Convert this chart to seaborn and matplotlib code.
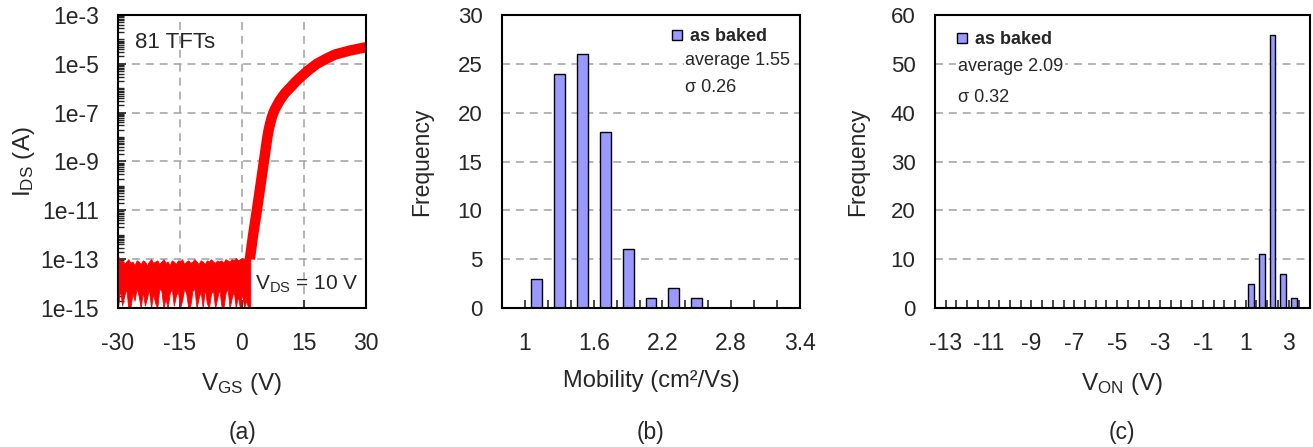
import matplotlib
matplotlib.use("Agg")
import matplotlib.pyplot as plt
import seaborn as sns
from matplotlib.patches import Patch
from matplotlib.ticker import FixedLocator, LogLocator, NullFormatter, MultipleLocator

# ---------------- data ----------------
# (a) transfer curves: on-state (centre of the band) and off-state noise envelope
vgs_on = [1.9, 2.7, 3.6, 4.45, 5.3, 5.8, 6.1, 6.4, 6.8, 7.2, 7.6, 8.0, 8.6, 9.2, 10.4, 11.8,
          13.0, 14.0, 16.0, 18.1, 20.5, 22.5, 26.0, 30.0]
log_ids_on = [-13.0, -12.0, -11.0, -10.0, -9.0, -8.4, -8.05, -7.75, -7.45, -7.2, -7.0, -6.85,
              -6.66, -6.48, -6.2, -5.95, -5.73, -5.57, -5.27, -5.0, -4.78, -4.62, -4.46, -4.32]

vgs_off = [-30.0, -29.5, -29.0, -28.5, -28.0, -27.5, -27.0, -26.5, -26.0, -25.5,
           -25.0, -24.5, -24.0, -23.5, -23.0, -22.5, -22.0, -21.5, -21.0, -20.5,
           -20.0, -19.5, -19.0, -18.5, -18.0, -17.5, -17.0, -16.5, -16.0, -15.5,
           -15.0, -14.5, -14.0, -13.5, -13.0, -12.5, -12.0, -11.5, -11.0, -10.5,
           -10.0, -9.5, -9.0, -8.5, -8.0, -7.5, -7.0, -6.5, -6.0, -5.5,
           -5.0, -4.5, -4.0, -3.5, -3.0, -2.5, -2.0, -1.5, -1.0, -0.5,
           0.0, 0.5, 1.0, 1.5, 2.0]
log_off_top = [-12.85, -13.1, -13.05, -13.2, -13.1, -13.0, -13.15, -13.1, -13.25, -13.05,
               -13.1, -13.2, -13.05, -13.1, -13.25, -13.1, -13.0, -13.15, -13.1, -13.05,
               -13.2, -13.1, -13.0, -13.15, -13.1, -13.25, -13.05, -13.1, -13.2, -13.05,
               -13.1, -13.0, -13.2, -13.1, -13.05, -13.15, -13.1, -13.0, -13.1, -13.2,
               -13.05, -13.1, -13.2, -13.05, -13.1, -13.0, -13.1, -13.15, -13.05, -13.1,
               -13.05, -13.15, -13.0, -13.05, -13.1, -13.0, -13.05, -12.95, -13.05, -13.0,
               -12.95, -13.0, -12.92, -12.95, -12.95]
log_off_bottom = [-15.0, -14.2, -14.9, -14.5, -14.2, -15.0, -15.0, -14.4, -14.7, -14.2,
                  -14.5, -15.0, -14.3, -14.9, -14.6, -14.2, -15.0, -14.4, -14.8, -15.0,
                  -14.2, -14.3, -15.0, -14.6, -15.0, -14.4, -14.2, -14.9, -14.5, -14.3,
                  -15.0, -14.7, -14.2, -14.4, -15.0, -14.9, -14.3, -14.2, -15.0, -14.6,
                  -14.3, -15.0, -14.2, -14.8, -15.0, -14.4, -14.3, -15.0, -14.6, -14.2,
                  -14.9, -15.0, -14.4, -14.2, -15.0, -14.6, -14.3, -15.0, -14.5, -15.0,
                  -14.4, -15.0, -14.7, -15.0, -15.0]

a_xticks = [-30, -15, 0, 15, 30]
a_ytick_exp = [-3, -5, -7, -9, -11, -13, -15]

# (b) mobility histogram
mob_centers = [1.1, 1.3, 1.5, 1.7, 1.9, 2.1, 2.3, 2.5]
mob_counts = [3, 24, 26, 18, 6, 1, 2, 1]
mob_labels = ["1", "1.6", "2.2", "2.8", "3.4"]
mob_label_pos = [1.0, 1.6, 2.2, 2.8, 3.4]

# (c) V_ON histogram
von_centers = [1.25, 1.75, 2.25, 2.75, 3.25]
von_counts = [5, 11, 56, 7, 2]
von_label_pos = [-13, -11, -9, -7, -5, -3, -1, 1, 3]

# ---------------- style ----------------
sns.set_theme(style="white")
FONT = ["Liberation Sans", "DejaVu Sans"]
plt.rcParams["font.family"] = FONT
plt.rcParams["mathtext.fontset"] = "custom"
plt.rcParams["mathtext.rm"] = "Liberation Sans"
plt.rcParams["mathtext.it"] = "Liberation Sans:italic"
plt.rcParams["mathtext.bf"] = "Liberation Sans:bold"

BAR = "#9999ff"
GRID = dict(color="#a0a0a0", linewidth=1.1, linestyle=(0, (5.2, 3.9)))

W, H = 1313, 447
fig = plt.figure(figsize=(W / 100, H / 100), dpi=100)


def box(l, r, t=15, b=308):
    return [l / W, (H - b) / H, (r - l) / W, (b - t) / H]


axa = fig.add_axes(box(118, 366))
axb = fig.add_axes(box(502, 800))
axc = fig.add_axes(box(935, 1310))

for ax in (axa, axb, axc):
    for s in ax.spines.values():
        s.set_color("black")
        s.set_linewidth(1.5)
        s.set_visible(True)
    ax.set_axisbelow(True)

# ---------------- panel (a) ----------------
axa.set_yscale("log")
ids_off_top = [10 ** v for v in log_off_top]
ids_off_bottom = [10 ** v for v in log_off_bottom]
axa.fill_between(vgs_off, ids_off_bottom, ids_off_top, color="red", lw=0.6, edgecolor="red")
ids_on = [10 ** v for v in log_ids_on]
sns.lineplot(x=vgs_on, y=ids_on, ax=axa, color="red", lw=7.5, sort=False, estimator=None,
             solid_capstyle="butt", solid_joinstyle="round")
axa.set_xlim(-30, 30)
axa.set_ylim(1e-15, 1e-3)
axa.set_xticks(a_xticks)
axa.set_xticklabels([str(v) for v in a_xticks])
axa.yaxis.set_major_locator(FixedLocator([10.0 ** e for e in a_ytick_exp]))
axa.set_yticklabels([f"1e{e}" for e in a_ytick_exp])
axa.yaxis.set_minor_locator(LogLocator(base=10, subs=(1, 2, 3, 4, 5, 6, 7, 8, 9), numticks=50))
axa.yaxis.set_minor_formatter(NullFormatter())
axa.tick_params(axis="x", which="major", direction="in", length=6, width=1.2, pad=17,
                labelsize=16.5, bottom=True, top=False)
axa.tick_params(axis="y", which="major", direction="in", length=6, width=1.2, pad=13.5,
                labelsize=16.5, left=True, right=False)
axa.tick_params(axis="y", which="minor", direction="in", length=4, width=1.0, left=True, right=False)
axa.grid(True, which="major", axis="both", **GRID)
axa.set_xlabel("V$_{\\mathrm{GS}}$ (V)", fontsize=17.5)
axa.set_ylabel("I$_{\\mathrm{DS}}$ (A)", fontsize=17.5)
axa.xaxis.set_label_coords(0.5, -0.215)
axa.yaxis.set_label_coords(-0.325, 0.5)
axa.text(0.068, 0.905, "81 TFTs", transform=axa.transAxes, fontsize=16, ha="left", va="center")
axa.text(0.97, 0.08, "V$_{\\mathrm{DS}}$ = 10 V", transform=axa.transAxes, fontsize=15,
         ha="right", va="center")

# ---------------- panel (b) ----------------
sns.barplot(x=mob_centers, y=mob_counts, ax=axb, native_scale=True, width=0.475,
            color=BAR, saturation=1, edgecolor="black", linewidth=1.0, errorbar=None)
axb.set_xlim(0.8, 3.4)
axb.set_ylim(0, 30)
axb.xaxis.set_major_locator(FixedLocator(mob_label_pos))
axb.set_xticklabels(mob_labels)
axb.xaxis.set_minor_locator(MultipleLocator(0.2))
axb.set_yticks([0, 5, 10, 15, 20, 25, 30])
axb.tick_params(axis="x", which="both", direction="in", length=6, width=1.2, pad=17,
                labelsize=16.5, bottom=True, top=False)
axb.tick_params(axis="y", which="both", length=0, pad=14, labelsize=16)
axb.grid(False)
axb.yaxis.grid(True, which="major", **GRID)
axb.set_xlabel("Mobility (cm²/Vs)", fontsize=17)
axb.set_ylabel("Frequency", fontsize=16.5)
axb.xaxis.set_label_coords(0.5, -0.21)
axb.yaxis.set_label_coords(-0.232, 0.5)
axb.legend(handles=[Patch(facecolor=BAR, edgecolor="black", label="as baked")],
           loc="center left", bbox_to_anchor=(0.57, 0.925), frameon=False, borderpad=0,
           borderaxespad=0, handlelength=0.55, handleheight=0.5, handletextpad=0.45,
           prop={"family": FONT, "weight": "bold", "size": 13})
wbox = dict(facecolor="white", edgecolor="none", pad=1.0)
axb.text(0.614, 0.846, "average 1.55", transform=axb.transAxes, fontsize=13, ha="left",
         va="center", bbox=wbox)
axb.text(0.614, 0.751, "σ 0.26", transform=axb.transAxes, fontsize=13, ha="left",
         va="center", bbox=wbox)

# ---------------- panel (c) ----------------
sns.barplot(x=von_centers, y=von_counts, ax=axc, native_scale=True, width=0.54,
            color=BAR, saturation=1, edgecolor="black", linewidth=1.0, errorbar=None)
axc.set_xlim(-13.5, 4.0)
axc.set_ylim(0, 60)
axc.xaxis.set_major_locator(FixedLocator(von_label_pos))
axc.set_xticklabels([str(v) for v in von_label_pos])
axc.xaxis.set_minor_locator(MultipleLocator(0.5))
axc.set_yticks([0, 10, 20, 30, 40, 50, 60])
axc.tick_params(axis="x", which="both", direction="in", length=6, width=1.2, pad=17,
                labelsize=16.5, bottom=True, top=False)
axc.tick_params(axis="y", which="both", length=0, pad=14, labelsize=16)
axc.grid(False)
axc.yaxis.grid(True, which="major", **GRID)
axc.set_xlabel("V$_{\\mathrm{ON}}$ (V)", fontsize=17.5)
axc.set_ylabel("Frequency", fontsize=16.5)
axc.xaxis.set_label_coords(0.5, -0.215)
axc.yaxis.set_label_coords(-0.176, 0.5)
axc.legend(handles=[Patch(facecolor=BAR, edgecolor="black", label="as baked")],
           loc="center left", bbox_to_anchor=(0.058, 0.915), frameon=False, borderpad=0,
           borderaxespad=0, handlelength=0.55, handleheight=0.5, handletextpad=0.45,
           prop={"family": FONT, "weight": "bold", "size": 13})
axc.text(0.061, 0.823, "average 2.09", transform=axc.transAxes, fontsize=13, ha="left",
         va="center", bbox=wbox)
axc.text(0.061, 0.72, "σ 0.32", transform=axc.transAxes, fontsize=13, ha="left",
         va="center", bbox=wbox)

# ---------------- panel letters ----------------
for lbl, cx in (("(a)", 242), ("(b)", 651), ("(c)", 1122)):
    fig.text(cx / W, (H - 432) / H, lbl, fontsize=16.5, ha="center", va="center")

fig.savefig("out.png", dpi=100)
